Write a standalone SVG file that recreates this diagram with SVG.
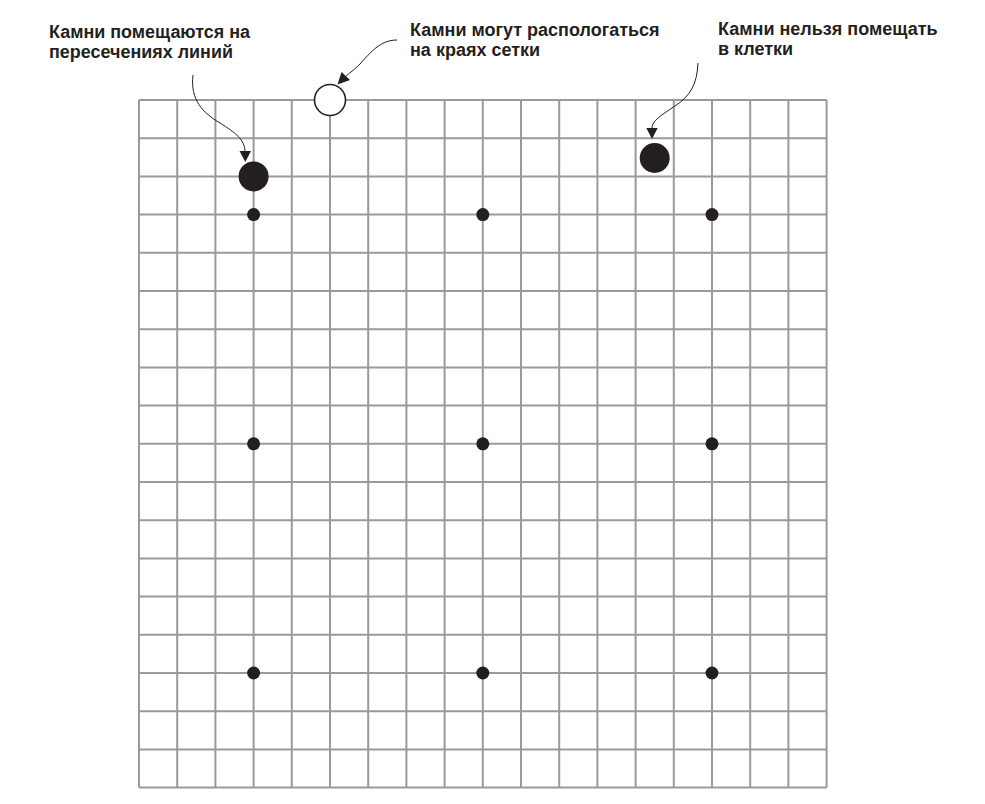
<svg xmlns="http://www.w3.org/2000/svg" width="985" height="804" viewBox="0 0 985 804">
<style>
.g{stroke:#9a9a9c;stroke-width:2;fill:none}
.t{font-family:"Liberation Sans",Arial,sans-serif;font-weight:bold;font-size:18px;fill:#231f20}
.c{stroke:#231f20;stroke-width:1;fill:none}
.h{fill:#231f20}
.star{fill:#231f20}
</style>
<rect width="985" height="804" fill="#fff"/>
<g id="grid">
<path class="g" d="M139,100V787.6M177.2,100V787.6M215.4,100V787.6M253.6,100V787.6M291.8,100V787.6M330,100V787.6M368.2,100V787.6M406.4,100V787.6M444.6,100V787.6M482.8,100V787.6M521,100V787.6M559.2,100V787.6M597.4,100V787.6M635.6,100V787.6M673.8,100V787.6M712,100V787.6M750.2,100V787.6M788.4,100V787.6M826.6,100V787.6"/>
<path class="g" d="M139,100H826.6M139,138.2H826.6M139,176.4H826.6M139,214.6H826.6M139,252.8H826.6M139,291H826.6M139,329.2H826.6M139,367.4H826.6M139,405.6H826.6M139,443.8H826.6M139,482H826.6M139,520.2H826.6M139,558.4H826.6M139,596.6H826.6M139,634.8H826.6M139,673H826.6M139,711.2H826.6M139,749.4H826.6M139,787.6H826.6"/>
</g>
<g id="star-points">
<circle class="star" cx="253.6" cy="214.6" r="6.5"/>
<circle class="star" cx="482.8" cy="214.6" r="6.5"/>
<circle class="star" cx="712" cy="214.6" r="6.5"/>
<circle class="star" cx="253.6" cy="443.8" r="6.5"/>
<circle class="star" cx="482.8" cy="443.8" r="6.5"/>
<circle class="star" cx="712" cy="443.8" r="6.5"/>
<circle class="star" cx="253.6" cy="673" r="6.5"/>
<circle class="star" cx="482.8" cy="673" r="6.5"/>
<circle class="star" cx="712" cy="673" r="6.5"/>
</g>
<g id="stone-intersection"><circle cx="253.6" cy="176.4" r="15" fill="#231f20"/></g>
<g id="stone-edge"><circle cx="330" cy="100" r="15.5" fill="#fff" stroke="#231f20" stroke-width="1.6"/></g>
<g id="stone-cell"><circle cx="654.7" cy="158" r="15" fill="#231f20"/></g>
<g id="connectors">
<path class="c" d="M193,75 C190,100 203,113 220,123 C236,133 245,140 245,152"/>
<polygon class="h" points="239.5,151 251,151 245.3,162"/>
<path class="c" d="M397,40 C380,40 370,53 360,64 C353,71 348,74 345,77"/>
<polygon class="h" points="341.5,72 350,80 337.5,84.5"/>
<path class="c" d="M698,63 C697,85 690,96 675,106 C660,116 652,121 652,128"/>
<polygon class="h" points="646.3,128 657.7,128 652,139"/>
</g>
<g id="label-intersection">
<text class="t" x="49" y="38" textLength="201" lengthAdjust="spacingAndGlyphs">Камни помещаются на</text>
<text class="t" x="49" y="58" textLength="184" lengthAdjust="spacingAndGlyphs">пересечениях линий</text>
</g>
<g id="label-edge">
<text class="t" x="410" y="36">Камни могут распологаться</text>
<text class="t" x="410" y="56">на краях сетки</text>
</g>
<g id="label-cell">
<text class="t" x="718" y="35">Камни нельзя помещать</text>
<text class="t" x="718" y="55">в клетки</text>
</g>
</svg>
